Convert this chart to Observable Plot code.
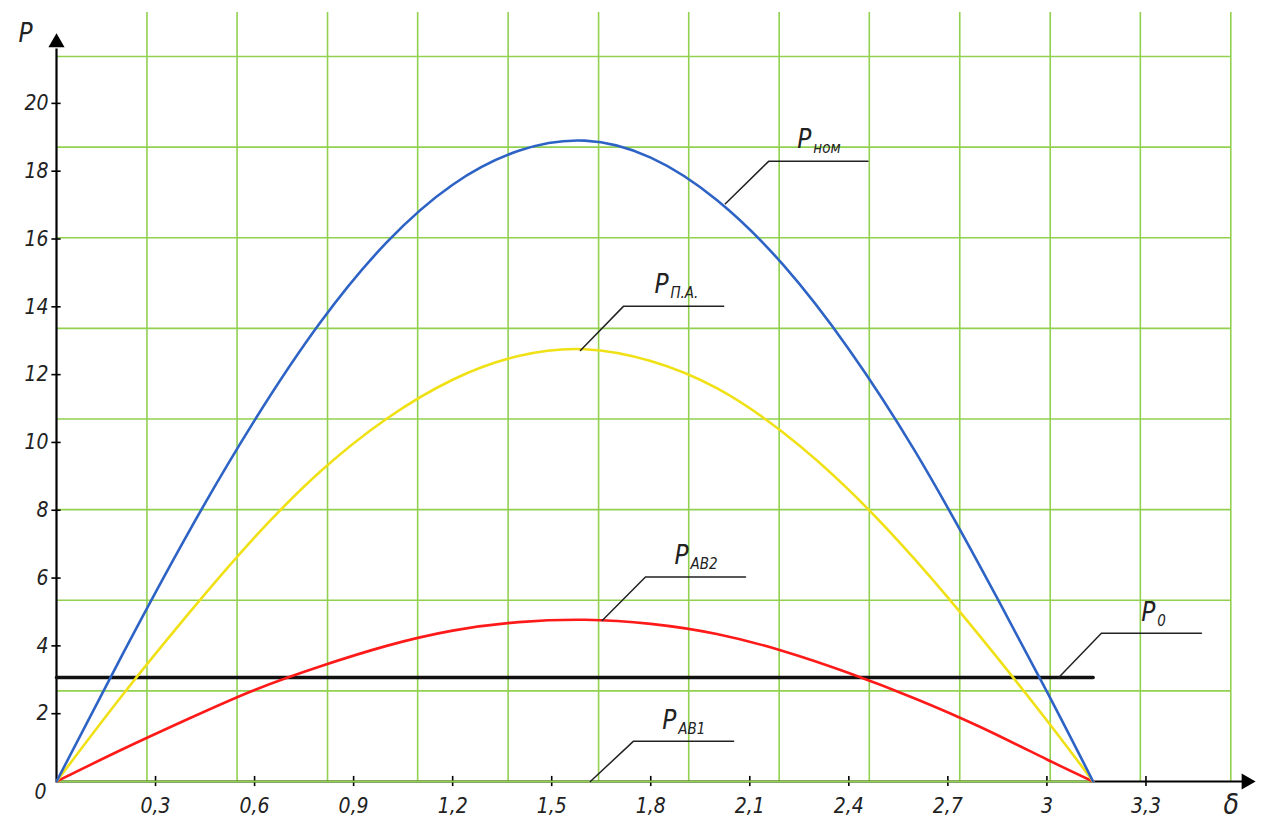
<!DOCTYPE html>
<html><head><meta charset="utf-8">
<script src="https://cdn.jsdelivr.net/npm/d3@7"></script>
<script src="https://cdn.jsdelivr.net/npm/@observablehq/plot@0.6"></script>
<style>
html,body{margin:0;padding:0;background:#fff;}
#chart svg{display:block;}
</style></head><body><div id="chart"></div>
<script>
// ---- data ----
const delta = [0, 0.2, 0.4, 0.6, 0.8, 1.0, 1.2, 1.4, 1.6, 1.8, 2.0, 2.2, 2.4, 2.6, 2.8, 3.0, 3.14];
const pNom  = [0, 3.75, 7.35, 10.65, 13.55, 15.9, 17.6, 18.6, 18.9, 18.4, 17.15, 15.25, 12.75, 9.75, 6.3, 2.65, 0];
const pPA   = [0, 2.55, 4.95, 7.2, 9.15, 10.7, 11.85, 12.55, 12.75, 12.4, 11.6, 10.3, 8.6, 6.55, 4.25, 1.8, 0];
const pAB2  = [0, 0.95, 1.85, 2.7, 3.4, 4.0, 4.45, 4.7, 4.77, 4.65, 4.35, 3.85, 3.2, 2.45, 1.6, 0.65, 0];
const pAB1  = [0, 0, 0, 0, 0, 0, 0, 0, 0, 0, 0, 0, 0, 0, 0, 0, 0];
const p0Delta = [0, 3.14];
const p0Value = [3.07, 3.07];

const xTicks = [0.3, 0.6, 0.9, 1.2, 1.5, 1.8, 2.1, 2.4, 2.7, 3, 3.3];
const yTicks = [2, 4, 6, 8, 10, 12, 14, 16, 18, 20];
const gridX = [0.274, 0.547, 0.821, 1.094, 1.368, 1.642, 1.915, 2.189, 2.462, 2.736, 3.010, 3.283, 3.557];
const gridY = [2.673, 5.346, 8.019, 10.692, 13.365, 16.038, 18.711, 21.384];

// callouts: subscript, point on curve, bend, end of shelf, label anchor
const calloutSub   = ["ном", "П.А.", "AB2", "0", "AB1"];
const calloutFromX = [2.026, 1.587, 1.653, 3.035, 1.617];
const calloutFromY = [17.04, 12.71, 4.75, 3.06, 0];
const calloutBendX = [2.157, 1.718, 1.784, 3.165, 1.748];
const calloutBendY = [18.29, 14.02, 6.03, 4.37, 1.19];
const calloutEndX  = [2.458, 2.021, 2.087, 3.468, 2.051];
const calloutLabX  = [2.244, 1.811, 1.872, 3.286, 1.835];
const calloutLabY  = [18.94, 14.66, 6.67, 4.99, 1.80];

const X_MAX = 3.65, Y_MAX = 22.68;
const GREEN = "#92d050";
const FONT = "'Liberation Sans Narrow', 'DejaVu Sans Condensed', 'Liberation Sans', sans-serif";

const leaderRows = [];
calloutSub.forEach((s, i) => {
  leaderRows.push({k: i, x: calloutFromX[i], y: calloutFromY[i]});
  leaderRows.push({k: i, x: calloutBendX[i], y: calloutBendY[i]});
  leaderRows.push({k: i, x: calloutEndX[i], y: calloutBendY[i]});
});
const idx = calloutSub.map((_, i) => i);

const chart = Plot.plot({
  width: 1264,
  height: 822,
  marginLeft: 56,
  marginRight: 3,
  marginTop: 12,
  marginBottom: 41,
  x: {domain: [0, X_MAX], axis: null},
  y: {domain: [0, Y_MAX], axis: null},
  style: {background: "#fff", overflow: "visible"},
  marks: [
    // grid
    Plot.ruleX(gridX, {x: d => d, y1: 0, y2: Y_MAX, stroke: GREEN, strokeWidth: 1.6}),
    Plot.ruleY(gridY, {y: d => d, x1: 0, x2: gridX[gridX.length - 1], stroke: GREEN, strokeWidth: 1.6}),
    // axes
    Plot.ruleX([0], {x: 0, y1: 0, y2: 21.6, stroke: "#000", strokeWidth: 2.2}),
    Plot.ruleY([0], {y: 0, x1: 0, x2: 3.6, stroke: "#000", strokeWidth: 2.2}),
    Plot.dot([0], {x: 0, y: 21.79, symbol: "triangle", r: 6, fill: "#000", stroke: "none"}),
    Plot.dot([0], {x: 3.604, y: 0, symbol: "triangle", r: 6, rotate: 90, fill: "#000", stroke: "none"}),
    // ticks
    Plot.ruleX(xTicks, {x: d => d, y1: -0.15, y2: 0.15, stroke: "#000", strokeWidth: 1.6}),
    Plot.ruleY(yTicks, {y: d => d, x1: -0.014, x2: 0.014, stroke: "#000", strokeWidth: 1.6}),
    // curves
    Plot.line(p0Delta, {x: p0Delta, y: p0Value, stroke: "#111", strokeWidth: 3.5}),
    Plot.line(delta, {x: delta, y: pAB1, stroke: GREEN, strokeWidth: 2.2}),
    Plot.line(delta, {x: delta, y: pAB2, stroke: "#ff1a1a", strokeWidth: 2.6, curve: "natural"}),
    Plot.line(delta, {x: delta, y: pPA, stroke: "#f0e116", strokeWidth: 2.6, curve: "natural"}),
    Plot.line(delta, {x: delta, y: pNom, stroke: "#2e63c6", strokeWidth: 2.6, curve: "natural"}),
    // tick labels
    Plot.text(xTicks, {x: d => d, y: 0, dy: 25, text: d => String(d).replace(".", ","),
      fontFamily: FONT, fontStyle: "italic", fontSize: 21, fill: "#222"}),
    Plot.text(yTicks, {x: 0, y: d => d, dx: -8, textAnchor: "end", text: d => String(d),
      fontFamily: FONT, fontStyle: "italic", fontSize: 21, fill: "#222"}),
    Plot.text(["0"], {x: 0, y: 0, dx: -16, dy: 11, text: d => d,
      fontFamily: FONT, fontStyle: "italic", fontSize: 21, fill: "#222"}),
    // axis names
    Plot.text(["P"], {x: 0, y: 22.06, dx: -31, dy: 0, text: d => d,
      fontFamily: FONT, fontStyle: "italic", fontSize: 26, fill: "#222"}),
    Plot.text(["δ"], {x: 3.558, y: 0, dy: 24, text: d => d,
      fontFamily: FONT, fontStyle: "italic", fontSize: 28, fill: "#222"}),
    // callouts
    Plot.line(leaderRows, {x: "x", y: "y", z: "k", stroke: "#222", strokeWidth: 1.5}),
    Plot.text(idx, {x: i => calloutLabX[i], y: i => calloutLabY[i], text: () => "P", textAnchor: "start",
      fontFamily: FONT, fontStyle: "italic", fontSize: 26, fill: "#222"}),
    Plot.text(idx, {x: i => calloutLabX[i], y: i => calloutLabY[i], dx: 16, dy: 9, text: i => calloutSub[i], textAnchor: "start",
      fontFamily: FONT, fontStyle: "italic", fontSize: 15, fill: "#222"})
  ]
});
document.getElementById("chart").appendChild(chart);
</script>
</body></html>
